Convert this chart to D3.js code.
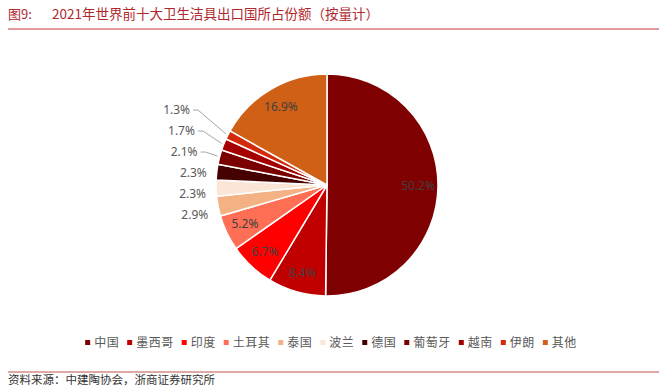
<!DOCTYPE html>
<html>
<head>
<meta charset="utf-8">
<script src="https://cdn.jsdelivr.net/npm/d3@7"></script>
<style>
  body { margin: 0; background: #fff; }
  svg { display: block; }
</style>
</head>
<body>
<div id="chart"></div>
<script>
var countries = ['中国', '墨西哥', '印度', '土耳其', '泰国', '波兰', '德国', '葡萄牙', '越南', '伊朗', '其他'];
var shares = [50.2, 8.4, 6.7, 5.2, 2.9, 2.3, 2.3, 2.1, 1.7, 1.3, 16.9];
var colors = ['#7f0000', '#c00000', '#ff0000', '#ff6f55', '#f4b183', '#fbe5d6', '#450000', '#7a0000', '#a50000', '#d42a0c', '#d06015'];
var titleText = '2021年世界前十大卫生洁具出口国所占份额（按量计）';
var sourceText = '资料来源：中建陶协会，浙商证券研究所';

var width = 671;
var height = 387;
var cx = 327, cy = 185, radius = 111;
var cjk = '"Noto Sans CJK SC", sans-serif';
var num = '"Noto Sans", "DejaVu Sans", sans-serif';

var svg = d3.select('#chart')
    .append('svg')
    .attr('width', width)
    .attr('height', height)
    .attr('viewBox', [0, 0, width, height]);

// header
svg.append('text')
    .attr('x', 8).attr('y', 19)
    .attr('fill', '#b0282c')
    .style('font-family', cjk)
    .style('font-size', '13px')
    .text('图9:');
svg.append('text')
    .attr('x', 52).attr('y', 19)
    .attr('fill', '#b0282c')
    .style('font-family', cjk)
    .style('font-size', '13.5px')
    .text(titleText);
svg.append('line')
    .attr('x1', 8).attr('x2', 659)
    .attr('y1', 29).attr('y2', 29)
    .attr('stroke', '#e29a9a')
    .attr('stroke-width', 2);

// pie
var pie = d3.pie().sort(null).value(d => d)
    .startAngle(0).endAngle(2 * Math.PI);
var arcs = pie(shares);
var arc = d3.arc().innerRadius(0).outerRadius(radius);

var g = svg.append('g')
    .attr('transform', `translate(${cx},${cy})`);

g.selectAll('path.slice')
    .data(arcs)
    .join('path')
    .attr('class', 'slice')
    .attr('d', arc)
    .attr('fill', (d, i) => colors[i])
    .attr('stroke', '#fff')
    .attr('stroke-width', 1.5)
    .attr('stroke-linejoin', 'round');

var mid = d => (d.startAngle + d.endAngle) / 2;
var inside = arcs.filter(d => d.data >= 5);
var outside = arcs.filter(d => d.data < 5);

var inArc = d3.arc().innerRadius(radius * 0.82).outerRadius(radius * 0.82);
g.selectAll('text.in')
    .data(inside)
    .join('text')
    .attr('class', 'in')
    .attr('transform', d => `translate(${inArc.centroid(d)})`)
    .attr('text-anchor', 'middle')
    .attr('dy', '0.35em')
    .attr('fill', '#404040')
    .style('font-family', num)
    .style('font-size', '12px')
    .text(d => d.data.toFixed(1) + '%');

// outside labels: natural position, then pushed up so they don't overlap
var lab = outside.map(d => {
    var a = mid(d);
    return {
        d: d,
        ax: Math.sin(a) * radius,
        ay: -Math.cos(a) * radius,
        x: Math.sin(a) * (radius + 10),
        y: -Math.cos(a) * (radius + 10) + 7
    };
});
for (var i = 1; i < lab.length; i++) {
    lab[i].y = Math.min(lab[i].y, lab[i - 1].y - 21);
}
lab.forEach(l => {
    var lift = l.ay - l.y;
    l.lined = lift > 3;
    if (l.lined) {
        l.ex = l.ax - 10 - lift * 0.8;
        l.x = l.ex - 8;
    }
});

g.selectAll('polyline.lead')
    .data(lab.filter(l => l.lined))
    .join('polyline')
    .attr('class', 'lead')
    .attr('points', l => [[l.ax - 2, l.ay - 1], [l.ex, l.y], [l.x + 3, l.y]])
    .attr('fill', 'none')
    .attr('stroke', '#a6a6a6')
    .attr('stroke-width', 1);

g.selectAll('text.out')
    .data(lab)
    .join('text')
    .attr('class', 'out')
    .attr('x', l => l.x)
    .attr('y', l => l.y)
    .attr('text-anchor', 'end')
    .attr('dy', '0.35em')
    .attr('fill', '#595959')
    .style('font-family', num)
    .style('font-size', '12px')
    .text(l => l.d.data.toFixed(1) + '%');

// legend
var legend = svg.append('g');
var lx = 0;
countries.forEach((c, i) => {
    var item = legend.append('g').attr('transform', `translate(${lx},0)`);
    item.append('rect')
        .attr('x', 0).attr('y', -3)
        .attr('width', 5).attr('height', 5)
        .attr('fill', colors[i]);
    var t = item.append('text')
        .attr('x', 9).attr('y', 0)
        .attr('dy', '0.35em')
        .attr('fill', '#595959')
        .style('font-family', cjk)
        .style('font-size', '12px')
        .style('letter-spacing', '0.5px')
        .text(c);
    lx += 9 + t.node().getComputedTextLength() + 8;
});
legend.attr('transform', `translate(${(86 + 576 - (lx - 8)) / 2},343)`);

// footer
svg.append('line')
    .attr('x1', 8).attr('x2', 659)
    .attr('y1', 372).attr('y2', 372)
    .attr('stroke', '#c0504d')
    .attr('stroke-width', 1);
svg.append('text')
    .attr('x', 8).attr('y', 384)
    .attr('fill', '#333')
    .style('font-family', cjk)
    .style('font-size', '11.5px')
    .text(sourceText);
</script>
</body>
</html>
